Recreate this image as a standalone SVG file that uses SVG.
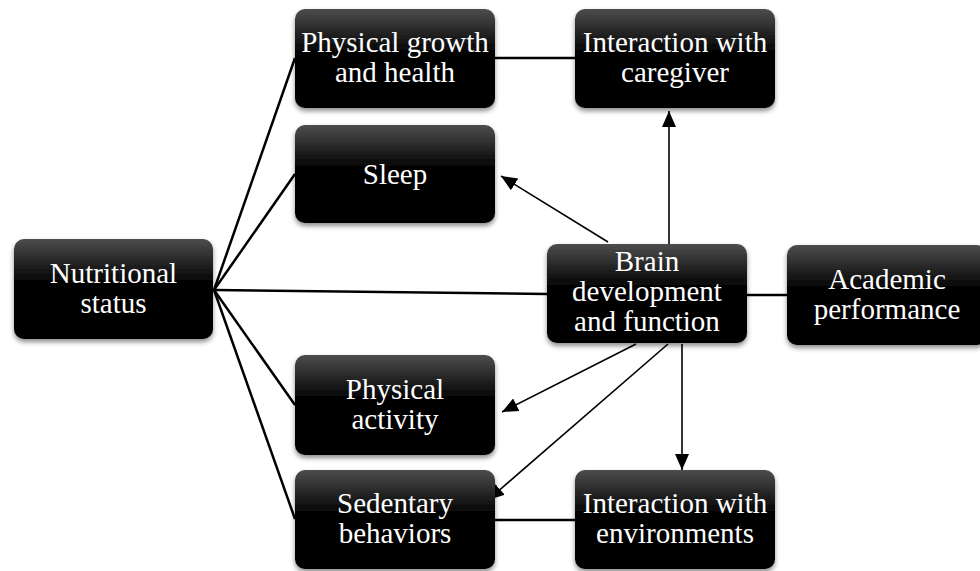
<svg xmlns="http://www.w3.org/2000/svg" width="980" height="571" viewBox="0 0 980 571">
<defs>
<linearGradient id="g" x1="0" y1="0" x2="0" y2="1">
<stop offset="0" stop-color="#4d4d4d"/>
<stop offset="0.45" stop-color="#000"/>
<stop offset="1" stop-color="#000"/>
</linearGradient>
<filter id="sh" x="-10%" y="-10%" width="120%" height="130%">
<feDropShadow dx="0" dy="3" stdDeviation="2.5" flood-color="#000" flood-opacity="0.45"/>
</filter>
<marker id="ah" markerUnits="userSpaceOnUse" markerWidth="18" markerHeight="16" refX="16" refY="7" orient="auto">
<path d="M0,0 L16,7 L0,14 z" fill="#000"/>
</marker>
</defs>
<rect width="980" height="571" fill="#fff"/>
<g id="connectors" stroke="#000" fill="none">
<g stroke-width="2.5">
<line x1="214" y1="290" x2="295" y2="58"/>
<line x1="214" y1="290" x2="295" y2="174"/>
<line x1="214" y1="290" x2="547" y2="294"/>
<line x1="214" y1="290" x2="295" y2="405"/>
<line x1="214" y1="290" x2="295" y2="519"/>
<line x1="495" y1="58" x2="575" y2="58"/>
<line x1="747" y1="295" x2="787" y2="295"/>
<line x1="495" y1="520" x2="575" y2="520"/>
</g>
<g stroke-width="1.6" marker-end="url(#ah)">
<line x1="669" y1="244" x2="669" y2="111"/>
<line x1="608" y1="242" x2="501" y2="176"/>
<line x1="636" y1="344" x2="502" y2="412"/>
<line x1="668" y1="344" x2="488" y2="500"/>
<line x1="682" y1="344" x2="682" y2="470"/>
</g>
</g>
<g id="n-physical-growth"><rect fill="url(#g)" filter="url(#sh)" x="295" y="9" width="200" height="99" rx="10"/></g>
<g id="n-caregiver"><rect fill="url(#g)" filter="url(#sh)" x="575" y="9" width="200" height="99" rx="10"/></g>
<g id="n-sleep"><rect fill="url(#g)" filter="url(#sh)" x="295" y="125" width="200" height="98" rx="10"/></g>
<g id="n-nutritional"><rect fill="url(#g)" filter="url(#sh)" x="14" y="239" width="199" height="100" rx="10"/></g>
<g id="n-brain"><rect fill="url(#g)" filter="url(#sh)" x="547" y="244" width="200" height="99" rx="10"/></g>
<g id="n-academic"><rect fill="url(#g)" filter="url(#sh)" x="787" y="245" width="200" height="100" rx="10"/></g>
<g id="n-physical-activity"><rect fill="url(#g)" filter="url(#sh)" x="295" y="355" width="200" height="100" rx="10"/></g>
<g id="n-sedentary"><rect fill="url(#g)" filter="url(#sh)" x="295" y="470" width="200" height="99" rx="10"/></g>
<g id="n-environments"><rect fill="url(#g)" filter="url(#sh)" x="575" y="470" width="200" height="99" rx="10"/></g>
<text fill="#fff" font-family="Times New Roman, Liberation Serif, serif" font-size="29" text-anchor="middle" x="395" y="52">Physical growth</text>
<text fill="#fff" font-family="Times New Roman, Liberation Serif, serif" font-size="29" text-anchor="middle" x="395" y="82">and health</text>
<text fill="#fff" font-family="Times New Roman, Liberation Serif, serif" font-size="29" text-anchor="middle" x="675" y="52">Interaction with</text>
<text fill="#fff" font-family="Times New Roman, Liberation Serif, serif" font-size="29" text-anchor="middle" x="675" y="82">caregiver</text>
<text fill="#fff" font-family="Times New Roman, Liberation Serif, serif" font-size="29" text-anchor="middle" x="395" y="184">Sleep</text>
<text fill="#fff" font-family="Times New Roman, Liberation Serif, serif" font-size="29" text-anchor="middle" x="113.5" y="283">Nutritional</text>
<text fill="#fff" font-family="Times New Roman, Liberation Serif, serif" font-size="29" text-anchor="middle" x="113.5" y="313">status</text>
<text fill="#fff" font-family="Times New Roman, Liberation Serif, serif" font-size="29" text-anchor="middle" x="647" y="271">Brain</text>
<text fill="#fff" font-family="Times New Roman, Liberation Serif, serif" font-size="29" text-anchor="middle" x="647" y="301">development</text>
<text fill="#fff" font-family="Times New Roman, Liberation Serif, serif" font-size="29" text-anchor="middle" x="647" y="331">and function</text>
<text fill="#fff" font-family="Times New Roman, Liberation Serif, serif" font-size="29" text-anchor="middle" x="887" y="289">Academic</text>
<text fill="#fff" font-family="Times New Roman, Liberation Serif, serif" font-size="29" text-anchor="middle" x="887" y="319">performance</text>
<text fill="#fff" font-family="Times New Roman, Liberation Serif, serif" font-size="29" text-anchor="middle" x="395" y="399">Physical</text>
<text fill="#fff" font-family="Times New Roman, Liberation Serif, serif" font-size="29" text-anchor="middle" x="395" y="429">activity</text>
<text fill="#fff" font-family="Times New Roman, Liberation Serif, serif" font-size="29" text-anchor="middle" x="395" y="513">Sedentary</text>
<text fill="#fff" font-family="Times New Roman, Liberation Serif, serif" font-size="29" text-anchor="middle" x="395" y="543">behaviors</text>
<text fill="#fff" font-family="Times New Roman, Liberation Serif, serif" font-size="29" text-anchor="middle" x="675" y="513">Interaction with</text>
<text fill="#fff" font-family="Times New Roman, Liberation Serif, serif" font-size="29" text-anchor="middle" x="675" y="543">environments</text>
</svg>
